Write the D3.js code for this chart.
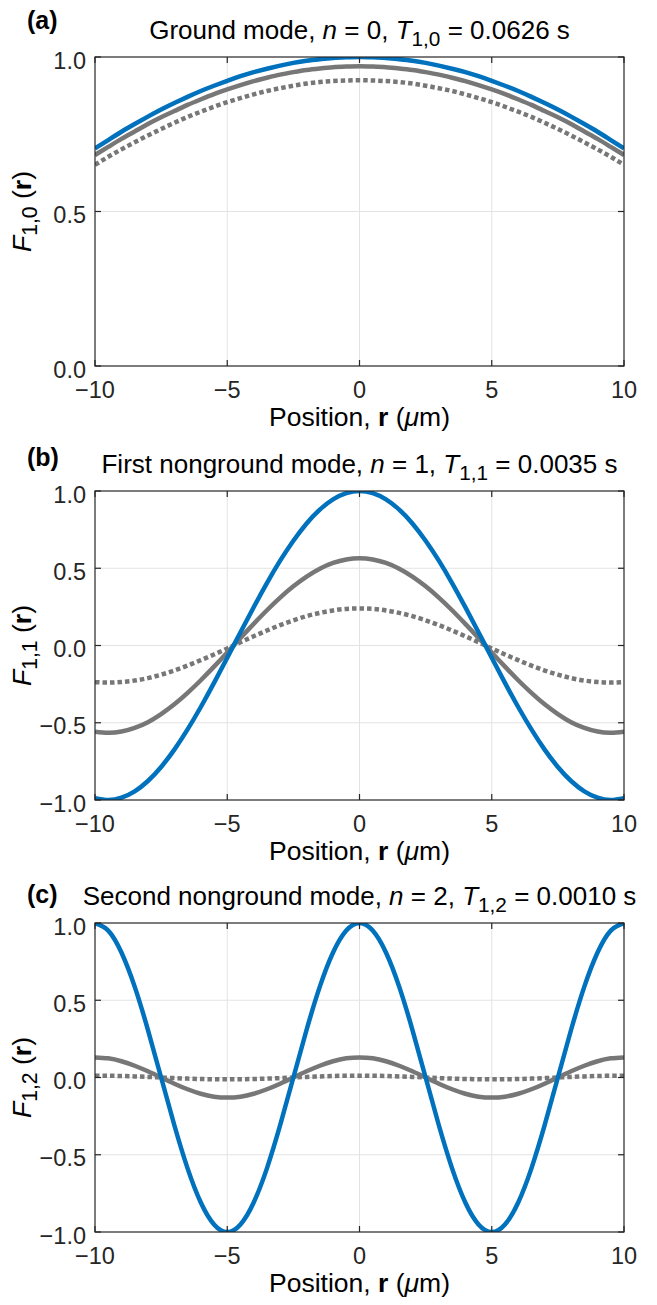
<!DOCTYPE html>
<html>
<head>
<meta charset="utf-8">
<script src="https://cdn.jsdelivr.net/npm/d3@7"></script>
<style>
  body { margin: 0; background: #fff; }
  text { font-family: "Liberation Sans", Arial, Helvetica, sans-serif; fill: #000; }
</style>
</head>
<body>
<svg id="chart" width="657" height="1305"></svg>
<script>
// -------------------- DATA -------------------- //

let positions = [-10,-9.5,-9,-8.5,-8,-7.5,-7,-6.5,-6,-5.5,-5,-4.5,-4,-3.5,-3,-2.5,-2,-1.5,-1,-0.5,
                 0,0.5,1,1.5,2,2.5,3,3.5,4,4.5,5,5.5,6,6.5,7,7.5,8,8.5,9,9.5,10];

// (a) ground mode
let groundBlue   = [0.704,0.731,0.758,0.783,0.807,0.830,0.851,0.871,0.890,0.907,0.923,0.938,0.951,0.962,0.972,0.981,0.988,0.993,0.997,0.999,
                    1.000,0.999,0.997,0.993,0.988,0.981,0.972,0.962,0.951,0.938,0.923,0.907,0.890,0.871,0.851,0.830,0.807,0.783,0.758,0.731,0.704];
let groundGray   = [0.683,0.709,0.735,0.759,0.783,0.805,0.825,0.845,0.863,0.880,0.895,0.909,0.922,0.933,0.943,0.951,0.958,0.963,0.967,0.969,
                    0.970,0.969,0.967,0.963,0.958,0.951,0.943,0.933,0.922,0.909,0.895,0.880,0.863,0.845,0.825,0.805,0.783,0.759,0.735,0.709,0.683];
let groundDotted = [0.651,0.677,0.701,0.724,0.746,0.767,0.787,0.806,0.823,0.839,0.854,0.867,0.879,0.890,0.899,0.907,0.914,0.919,0.922,0.924,
                    0.925,0.924,0.922,0.919,0.914,0.907,0.899,0.890,0.879,0.867,0.854,0.839,0.823,0.806,0.787,0.767,0.746,0.724,0.701,0.677,0.651];

// (b) first nonground mode
let firstBlue   = [-0.988,-1.000,-0.985,-0.944,-0.877,-0.786,-0.674,-0.543,-0.398,-0.242,-0.079,0.086,0.248,0.404,0.549,0.678,0.790,0.880,0.946,0.986,
                   1.000,0.986,0.946,0.880,0.790,0.678,0.549,0.404,0.248,0.086,-0.079,-0.242,-0.398,-0.543,-0.674,-0.786,-0.877,-0.944,-0.985,-1.000,-0.988];
let firstGray   = [-0.558,-0.565,-0.557,-0.533,-0.496,-0.444,-0.381,-0.307,-0.225,-0.137,-0.045,0.049,0.140,0.228,0.310,0.383,0.446,0.497,0.534,0.557,
                   0.565,0.557,0.534,0.497,0.446,0.383,0.310,0.228,0.140,0.049,-0.045,-0.137,-0.225,-0.307,-0.381,-0.444,-0.496,-0.533,-0.557,-0.565,-0.558];
let firstDotted = [-0.237,-0.240,-0.236,-0.227,-0.211,-0.189,-0.162,-0.130,-0.095,-0.058,-0.019,0.021,0.060,0.097,0.132,0.163,0.190,0.211,0.227,0.237,
                   0.240,0.237,0.227,0.211,0.190,0.163,0.132,0.097,0.060,0.021,-0.019,-0.058,-0.095,-0.130,-0.162,-0.189,-0.211,-0.227,-0.236,-0.240,-0.237];

// (c) second nonground mode
let secondBlue   = [1.000,0.951,0.809,0.588,0.309,0.000,-0.309,-0.588,-0.809,-0.951,-1.000,-0.951,-0.809,-0.588,-0.309,0.000,0.309,0.588,0.809,0.951,
                    1.000,0.951,0.809,0.588,0.309,0.000,-0.309,-0.588,-0.809,-0.951,-1.000,-0.951,-0.809,-0.588,-0.309,0.000,0.309,0.588,0.809,0.951,1.000];
let secondGray   = [0.130,0.124,0.105,0.076,0.040,0.000,-0.040,-0.076,-0.105,-0.124,-0.130,-0.124,-0.105,-0.076,-0.040,0.000,0.040,0.076,0.105,0.124,
                    0.130,0.124,0.105,0.076,0.040,0.000,-0.040,-0.076,-0.105,-0.124,-0.130,-0.124,-0.105,-0.076,-0.040,0.000,0.040,0.076,0.105,0.124,0.130];
let secondDotted = [0.012,0.011,0.010,0.007,0.004,0.000,-0.004,-0.007,-0.010,-0.011,-0.012,-0.011,-0.010,-0.007,-0.004,0.000,0.004,0.007,0.010,0.011,
                    0.012,0.011,0.010,0.007,0.004,0.000,-0.004,-0.007,-0.010,-0.011,-0.012,-0.011,-0.010,-0.007,-0.004,0.000,0.004,0.007,0.010,0.011,0.012];

// ticks
let xTicks = [-10, -5, 0, 5, 10];
let yTicksGround = [0, 0.5, 1];
let yTicksMode = [-1, -0.5, 0, 0.5, 1];

// texts (segments: i = italic, b = bold, sub = subscript)
let panelLetters = ["(a)", "(b)", "(c)"];
let panelTitles = [
    [{t:"Ground mode, "},{t:"n",i:1},{t:" = 0, "},{t:"T",i:1},{t:"1,0",sub:1},{t:" = 0.0626 s"}],
    [{t:"First nonground mode, "},{t:"n",i:1},{t:" = 1, "},{t:"T",i:1},{t:"1,1",sub:1},{t:" = 0.0035 s"}],
    [{t:"Second nonground mode, "},{t:"n",i:1},{t:" = 2, "},{t:"T",i:1},{t:"1,2",sub:1},{t:" = 0.0010 s"}]
];
let yLabelSubs = ["1,0", "1,1", "1,2"];
let xLabel = [{t:"Position, "},{t:"r",b:1},{t:" ("},{t:"\u03bc",i:1},{t:"m)"}];

// -------------------- LAYOUT -------------------- //

let svg = d3.select("#chart");
let plotLeft = 95, plotRight = 624, plotHeight = 309;
let BLUE = "#0072bd", GRAY = "#777777", AXIS = "#262626", GRID = "#e3e3e3";

let panels = [
    { top: 57,  domain: [0, 1],  ticks: yTicksGround, series: [groundDotted, groundGray, groundBlue], letterDy: -28 },
    { top: 491, domain: [-1, 1], ticks: yTicksMode,   series: [firstDotted, firstGray, firstBlue],     letterDy: -25 },
    { top: 923, domain: [-1, 1], ticks: yTicksMode,   series: [secondDotted, secondGray, secondBlue],  letterDy: -20 }
];

let x = d3.scaleLinear().domain([-10, 10]).range([plotLeft, plotRight]);

// writes styled segments into a text element
function richText(textSel, parts, subShift) {
    let shifted = false;
    parts.forEach(p => {
        let ts = textSel.append("tspan").text(p.t);
        if (p.i) ts.style("font-style", "italic");
        if (p.b) ts.style("font-weight", "bold");
        if (p.sub) {
            ts.attr("font-size", "0.8em").attr("dy", subShift);
            shifted = true;
        } else if (shifted) {
            ts.attr("dy", -subShift);
            shifted = false;
        }
    });
}

// -------------------- DRAW PANELS -------------------- //

panels.forEach((p, k) => {
    let y = d3.scaleLinear().domain(p.domain).range([p.top + plotHeight, p.top]);
    let g = svg.append("g").attr("class", "panel");

    // grid
    g.selectAll(".gx").data(xTicks.slice(1, -1)).enter().append("line")
        .attr("x1", d => x(d)).attr("x2", d => x(d))
        .attr("y1", p.top).attr("y2", p.top + plotHeight)
        .attr("stroke", GRID).attr("stroke-width", 1);
    g.selectAll(".gy").data(p.ticks.slice(1, -1)).enter().append("line")
        .attr("x1", plotLeft).attr("x2", plotRight)
        .attr("y1", d => y(d)).attr("y2", d => y(d))
        .attr("stroke", GRID).attr("stroke-width", 1);

    // clip
    svg.append("clipPath").attr("id", "clip" + k)
        .append("rect").attr("x", plotLeft).attr("y", p.top)
        .attr("width", plotRight - plotLeft).attr("height", plotHeight);

    let line = d3.line()
        .x((d, i) => x(positions[i]))
        .y(d => y(d))
        .curve(d3.curveNatural);

    let styles = [
        { color: GRAY, dash: "4.5,3" },
        { color: GRAY, dash: null },
        { color: BLUE, dash: null }
    ];
    p.series.forEach((s, j) => {
        g.append("path")
            .attr("d", line(s))
            .attr("clip-path", "url(#clip" + k + ")")
            .attr("fill", "none")
            .attr("stroke", styles[j].color)
            .attr("stroke-width", 4.5)
            .attr("stroke-dasharray", styles[j].dash);
    });

    // box
    g.append("rect")
        .attr("x", plotLeft).attr("y", p.top)
        .attr("width", plotRight - plotLeft).attr("height", plotHeight)
        .attr("fill", "none").attr("stroke", AXIS).attr("stroke-width", 1.2);

    // inward ticks, both sides
    let tickLen = 6;
    xTicks.forEach(t => {
        g.append("line").attr("x1", x(t)).attr("x2", x(t))
            .attr("y1", p.top + plotHeight).attr("y2", p.top + plotHeight - tickLen)
            .attr("stroke", AXIS).attr("stroke-width", 1.2);
        g.append("line").attr("x1", x(t)).attr("x2", x(t))
            .attr("y1", p.top).attr("y2", p.top + tickLen)
            .attr("stroke", AXIS).attr("stroke-width", 1.2);
    });
    p.ticks.forEach(t => {
        g.append("line").attr("x1", plotLeft).attr("x2", plotLeft + tickLen)
            .attr("y1", y(t)).attr("y2", y(t))
            .attr("stroke", AXIS).attr("stroke-width", 1.2);
        g.append("line").attr("x1", plotRight).attr("x2", plotRight - tickLen)
            .attr("y1", y(t)).attr("y2", y(t))
            .attr("stroke", AXIS).attr("stroke-width", 1.2);
    });

    // tick labels
    g.selectAll(".xl").data(xTicks).enter().append("text")
        .attr("x", d => x(d)).attr("y", p.top + plotHeight + 31.5)
        .attr("text-anchor", "middle").attr("font-size", 23.5).style("fill", "#262626")
        .text(d => (d < 0 ? "\u2212" : "") + Math.abs(d));
    g.selectAll(".yl").data(p.ticks).enter().append("text")
        .attr("x", plotLeft - 9).attr("y", d => y(d) + 11.5)
        .attr("text-anchor", "end").attr("font-size", 23.5).style("fill", "#262626")
        .text(d => (d < 0 ? "\u2212" : "") + Math.abs(d).toFixed(1));

    // x axis label
    let xl = g.append("text")
        .attr("x", (plotLeft + plotRight) / 2).attr("y", p.top + plotHeight + 60)
        .attr("text-anchor", "middle").attr("font-size", 26.5);
    richText(xl, xLabel, 0);

    // y axis label
    let yl = g.append("text")
        .attr("transform", "translate(31," + (p.top + plotHeight / 2) + ") rotate(-90)")
        .attr("text-anchor", "middle").attr("font-size", 26.5);
    richText(yl, [{t:"F",i:1},{t:yLabelSubs[k],sub:1},{t:" ("},{t:"r",b:1},{t:")"}], 6);

    // title
    let tt = g.append("text")
        .attr("x", (plotLeft + plotRight) / 2).attr("y", p.top - 18)
        .attr("text-anchor", "middle").attr("font-size", 26);
    richText(tt, panelTitles[k], 7);

    // panel letter
    g.append("text")
        .attr("x", 27).attr("y", p.top + p.letterDy)
        .attr("font-size", 25).attr("font-weight", "bold")
        .text(panelLetters[k]);
});
</script>
</body>
</html>
